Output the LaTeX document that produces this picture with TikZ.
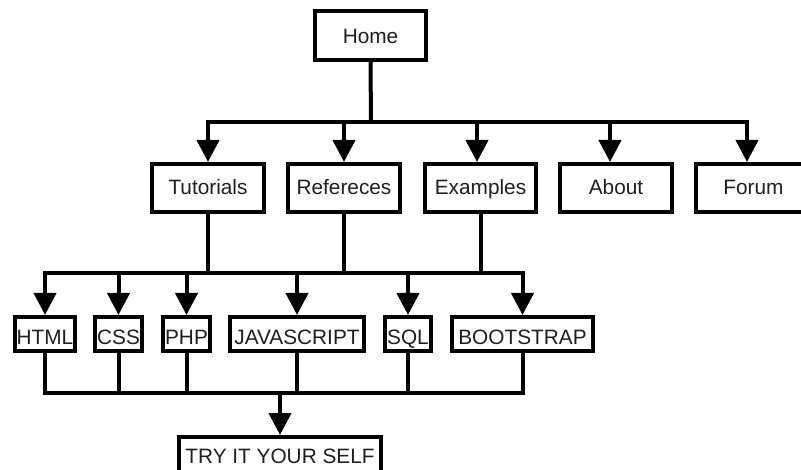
\documentclass[tikz,border=0pt]{standalone}
\usepackage{fontspec}
\setmainfont{Liberation Sans}
\usetikzlibrary{arrows.meta}
\begin{document}
\begin{tikzpicture}[x=1pt,y=-1pt,
  box/.style={draw=black, line width=4pt, inner sep=0pt, fill=white,
    text height=15pt, text depth=1pt,
    font=\fontsize{20.8}{24}\selectfont, text=black!88},
  lowtext/.style={text height=22pt, text depth=0pt},
  conn/.style={line width=4pt, line join=miter, draw=black},
  arr/.style={conn, -{Triangle[length=22pt,width=22pt]}}]
\clip (0,0) rectangle (801,470);
\fill[white] (0,0) rectangle (801,470);
% level 1
\node[box, minimum width=111pt, minimum height=49pt, text height=17pt, text depth=0pt] (home) at (370.5,35.5) {Home};
% level 2
\node[box, minimum width=112pt, minimum height=48pt] (tut) at (208,188) {Tutorials};
\node[box, minimum width=112pt, minimum height=48pt] (ref) at (344,188) {Refereces};
\node[box, minimum width=111pt, minimum height=48pt] (ex) at (480.5,188) {Examples};
\node[box, minimum width=112pt, minimum height=48pt] (ab) at (616,188) {About};
\node[box, minimum width=115pt, minimum height=48pt] (fo) at (753.5,188) {Forum};
% level 3
\node[box, lowtext, minimum width=60pt, minimum height=34pt] (html) at (45,334) {HTML};
\node[box, lowtext, minimum width=47pt, minimum height=34pt] (css) at (118.5,334) {CSS};
\node[box, lowtext, minimum width=47pt, minimum height=34pt] (php) at (186.5,334) {PHP};
\node[box, lowtext, minimum width=134pt, minimum height=34pt] (js) at (297,334) {JAVASCRIPT};
\node[box, lowtext, minimum width=46pt, minimum height=34pt] (sql) at (408,334) {SQL};
\node[box, lowtext, minimum width=141pt, minimum height=34pt] (bs) at (522.5,334) {BOOTSTRAP};
% level 4
\node[box, minimum width=202pt, minimum height=36pt, text height=16pt, text depth=0pt] (try) at (280,455) {TRY IT YOUR SELF};
% bus coordinates
\coordinate (b1) at (371,122);
\coordinate (b2) at (45,273);
\coordinate (b3) at (280,393);
% connectors level 1 -> 2
\draw[conn] (home.south) -- (b1);
\draw[arr] (b1) -| (tut.north);
\draw[arr] (b1) -| ([xshift=-6.5pt]fo.north);
\draw[arr] (ref.north |- b1) -- (ref.north);
\draw[arr] ([xshift=-3.5pt]ex.north |- b1) -- ([xshift=-3.5pt]ex.north);
\draw[arr] ([xshift=-6pt]ab.north |- b1) -- ([xshift=-6pt]ab.north);
% connectors level 2 -> 3
\draw[conn] (tut.south) -- (tut.south |- b2);
\draw[conn] (ref.south) -- (ref.south |- b2);
\draw[conn] (ex.south) -- (ex.south |- b2);
\draw[arr] (bs.north |- b2) -| (html.north);
\draw[arr] (html.north |- b2) -| (bs.north);
\draw[arr] (css.north |- b2) -- (css.north);
\draw[arr] (php.north |- b2) -- (php.north);
\draw[arr] (js.north |- b2) -- (js.north);
\draw[arr] (sql.north |- b2) -- (sql.north);
% connectors level 3 -> 4
\draw[conn] (html.south) |- (b3) -| (bs.south);
\draw[conn] (css.south) -- (css.south |- b3);
\draw[conn] (php.south) -- (php.south |- b3);
\draw[conn] (js.south) -- (js.south |- b3);
\draw[conn] (sql.south) -- (sql.south |- b3);
\draw[arr] (b3) -- (try.north);
\end{tikzpicture}
\end{document}
